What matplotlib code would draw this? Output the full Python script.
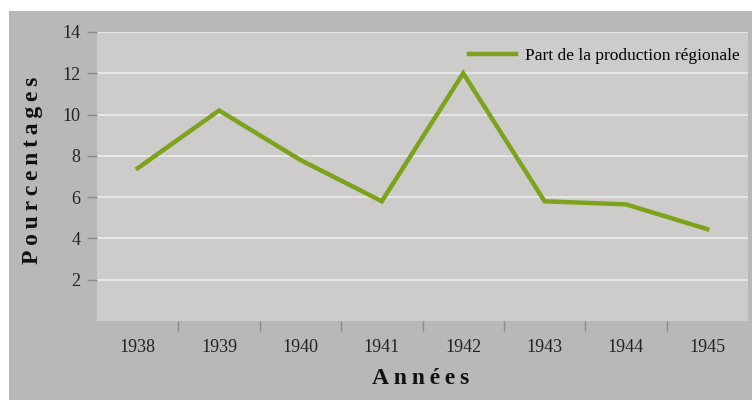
import matplotlib.pyplot as plt
from matplotlib.patches import Rectangle

years = ["1938", "1939", "1940", "1941", "1942", "1943", "1944", "1945"]
part = [7.4, 10.2, 7.8, 5.8, 12.0, 5.8, 5.65, 4.45]
yticks = [2, 4, 6, 8, 10, 12, 14]

plt.rcParams['font.family'] = ['Liberation Serif', 'DejaVu Serif']

fig = plt.figure(figsize=(7.52, 4.0), dpi=100, facecolor="#b9b8b6")
# white strips at top and left
fig.add_artist(Rectangle((0, (400 - 11) / 400), 1, 11 / 400, transform=fig.transFigure,
                         facecolor="white", edgecolor="none"))
fig.add_artist(Rectangle((0, 0), 9 / 752, 1, transform=fig.transFigure,
                         facecolor="white", edgecolor="none"))

ax = fig.add_axes([97 / 752, 79 / 400, 651 / 752, 289 / 400])
ax.set_facecolor("#cdcccb")
for s in ax.spines.values():
    s.set_visible(False)

x = list(range(len(years)))
ax.plot(x, part, color="#7da21c", lw=3.2, label="Part de la production régionale",
        solid_joinstyle="miter", zorder=3)

ax.set_xlim(-0.5, len(years) - 0.5)
ax.set_ylim(0, 14)
ax.set_yticks(yticks)
ax.set_yticklabels([str(v) for v in yticks])
ax.grid(axis="y", color="#ececec", lw=1.2)
ax.tick_params(axis="y", length=7, color="#8a8a8a", width=1, pad=5, labelsize=13, labelcolor="#222222")

ax.set_xticks([i + 0.5 for i in range(len(years) - 1)])
ax.set_xticklabels([])
ax.set_xticks(x, minor=True)
ax.set_xticklabels(years, minor=True)
ax.tick_params(axis="x", which="major", length=7, color="#8a8a8a", width=1)
ax.tick_params(axis="x", which="minor", length=0, pad=13, labelsize=13, labelcolor="#222222")

fig.text(33 / 752, 1 - 170 / 400, "\u2009".join("Pourcentages"), rotation=90,
         ha="center", va="center", fontsize=17, fontweight="bold", color="#111111")
fig.text(421 / 752, 1 - 379 / 400, "\u2009".join("Années"),
         ha="center", va="center", fontsize=17, fontweight="bold", color="#111111")

ax.legend(loc="upper right", bbox_to_anchor=(1.004, 0.982), frameon=False, fontsize=12.5,
          handlelength=2.7, borderaxespad=0.2, handletextpad=0.55)

fig.savefig("out.png", dpi=100, facecolor=fig.get_facecolor())
